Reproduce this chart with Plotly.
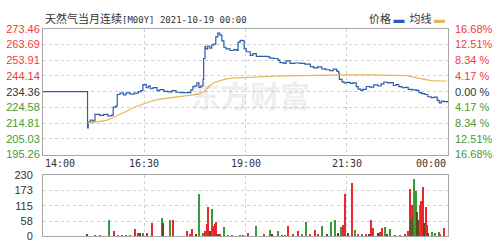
import plotly.graph_objects as go

# ---------------- data ----------------
title_text = "天然气当月连续[M00Y] 2021-10-19 00:00"
prev_close = 234.36

# price line: minutes after 14:00, price
price_minutes = [0, 65, 66, 67, 70, 74, 77, 84, 90, 96, 102, 104, 108, 110, 114, 119, 123, 129, 135,
                 141, 145, 148, 153, 156, 159, 163, 169, 173, 179, 185, 191, 197, 203, 210, 218, 219,
                 222, 225, 228, 231, 234, 237, 238, 240, 241, 244, 247, 250, 253, 256, 259, 262, 265,
                 268, 271, 277, 283, 287, 289, 292, 296, 298, 301, 307, 311, 316, 324, 333, 336, 342,
                 348, 351, 357, 360, 366, 373, 381, 388, 396, 401, 407, 413, 419, 425, 430, 435, 438,
                 439, 443, 446, 450, 455, 459, 464, 467, 471, 474, 479, 484, 490, 496, 501, 505, 510,
                 514, 519, 523, 527, 532, 536, 541, 547, 553, 557, 561, 566, 570, 575, 579, 584, 587,
                 590, 594, 599]
price_values = [234.36, 234.36, 211.8, 215.5, 216.6, 216.0, 220.2, 219.6, 220.3, 219.3, 219.8, 224.8,
                225.5, 232.6, 233.5, 232.4, 233.6, 232.8, 233.4, 234.4, 235.0, 238.8, 236.8, 237.8,
                236.2, 236.9, 235.0, 235.6, 234.5, 234.3, 235.0, 234.0, 233.8, 233.8, 233.8, 235.5,
                237.5, 238.0, 239.8, 237.0, 238.0, 242.0, 255.0, 262.5, 261.0, 262.8, 261.5, 263.5,
                264.0, 268.5, 270.8, 269.5, 266.0, 262.0, 261.0, 260.0, 260.5, 260.0, 265.0, 266.3,
                266.0, 261.0, 259.2, 257.0, 258.0, 256.3, 256.3, 256.0, 255.2, 255.0, 254.0, 252.5,
                252.0, 253.5, 252.0, 252.2, 252.0, 251.5, 250.0, 249.2, 249.8, 248.5, 248.0, 247.5,
                248.4, 247.2, 246.0, 242.0, 240.5, 239.8, 240.2, 239.5, 239.9, 237.5, 236.0, 235.2,
                235.8, 237.6, 237.2, 238.6, 237.9, 239.2, 240.4, 239.8, 240.0, 238.2, 238.8, 237.5,
                236.8, 237.0, 235.8, 235.5, 235.2, 233.8, 233.2, 232.6, 231.2, 230.6, 231.0, 229.0,
                227.4, 228.5, 228.2, 227.6]

# average line
avg_minutes = [66, 74, 84, 94, 104, 115, 125, 136, 148, 160, 172, 185, 198, 210, 222, 232, 238, 243,
               248, 255, 262, 270, 280, 295, 310, 330, 360, 390, 420, 450, 480, 520, 540, 555, 565,
               575, 590, 599]
avg_values = [214.8, 215.3, 215.8, 216.5, 218.3, 220.3, 222.5, 224.8, 226.8, 228.4, 229.6, 230.5,
              231.2, 231.8, 232.4, 233.0, 234.0, 236.5, 238.5, 240.2, 241.3, 242.2, 242.8, 243.2,
              243.5, 243.8, 244.2, 244.5, 244.7, 244.8, 244.8, 244.6, 244.3, 242.8, 241.8, 241.2,
              241.0, 241.0]

# volume bars
vol_minutes = [65, 77, 84, 98, 105, 111, 117, 123, 129, 136, 141, 144, 148, 154, 161, 176, 178, 188,
               193, 213, 218, 221, 227, 231, 237, 240, 243, 244, 247, 250, 252, 255, 256, 259, 262,
               268, 274, 280, 292, 296, 304, 316, 327, 336, 339, 348, 354, 359, 363, 370, 378, 384,
               390, 396, 403, 407, 413, 421, 427, 433, 437, 441, 444, 447, 448, 452, 458, 462, 467,
               473, 479, 483, 486, 489, 496, 499, 502, 507, 510, 514, 521, 529, 536, 541, 544, 545,
               547, 548, 550, 553, 554, 556, 559, 560, 563, 564, 567, 569, 571, 576, 581, 587, 588,
               594]
vol_values = [4, 2, 3, 59, 18, 3, 2, 3, 2, 28, 10, 12, 12, 10, 47, 67, 50, 61, 61, 17, 8, 25, 8, 159,
              10, 17, 44, 109, 20, 100, 39, 45, 51, 8, 5, 33, 3, 2, 2, 2, 12, 37, 4, 22, 8, 20, 3, 3,
              37, 4, 17, 5, 53, 4, 22, 5, 37, 6, 53, 61, 10, 33, 43, 157, 103, 10, 201, 22, 4, 4, 5,
              8, 61, 30, 10, 15, 30, 33, 8, 25, 3, 3, 4, 20, 178, 60, 115, 70, 214, 170, 90, 60, 117,
              133, 184, 50, 110, 43, 12, 13, 12, 13, 6, 30]
vol_dir = ["mix", "down", "up", "down", "up", "down", "up", "down", "down", "up", "up", "mix", "down",
           "up", "up", "down", "mix", "down", "up", "up", "up", "up", "mix", "down", "down", "up", "up",
           "up", "mix", "down", "up", "up", "up", "mix", "up", "down", "down", "up", "down", "up", "up",
           "down", "up", "down", "mix", "down", "up", "down", "up", "up", "up", "down", "down", "up",
           "up", "up", "down", "mix", "down", "down", "mix", "down", "up", "up", "up", "mix", "up",
           "down", "up", "down", "up", "mix", "up", "up", "mix", "up", "up", "down", "mix", "down",
           "up", "down", "up", "up", "up", "mix", "up", "mix", "down", "down", "mix", "mix", "down",
           "up", "up", "mix", "up", "up", "mix", "down", "down", "down", "up", "up"]

time_tick_minutes = [0, 150, 300, 450, 600]
time_tick_labels = ["14:00", "16:30", "19:00", "21:30", "00:00"]

price_ticks = [273.46, 263.69, 253.91, 244.14, 234.36, 224.58, 214.81, 205.03, 195.26]
pct_ticks = ["16.68%", "12.51%", "8.34 %", "4.17 %", "0.00 %", "4.17 %", "8.34 %", "12.51%", "16.68%"]
vol_ticks = [0, 58, 115, 173, 230]

# ---------------- style ----------------
RED = "#ee3b3b"
GREEN = "#4a9a2e"
DARK = "#333333"
BLUE = "#2a5caa"
ORANGE = "#e8b656"
dir_color = {"up": "#e8282b", "down": "#3a9a3a", "mix": "#5c4a12"}


def tick_color(v):
    if abs(v - prev_close) < 1e-6:
        return DARK
    return RED if v > prev_close else GREEN


left_text = [f"<span style='color:{tick_color(v)}'>{v:.2f}</span>" for v in price_ticks]
right_text = [f"<span style='color:{tick_color(v)}'>{t}</span>" for v, t in zip(price_ticks, pct_ticks)]

fig = go.Figure()
fig.add_trace(go.Scatter(x=price_minutes, y=price_values, mode="lines",
                         line=dict(color=BLUE, width=1.2, shape="hv"), hoverinfo="skip",
                         xaxis="x", yaxis="y"))
fig.add_trace(go.Scatter(x=avg_minutes, y=avg_values, mode="lines",
                         line=dict(color=ORANGE, width=1.2), hoverinfo="skip",
                         xaxis="x", yaxis="y"))
# invisible copy on the right-hand percent axis so that axis is drawn
fig.add_trace(go.Scatter(x=price_minutes, y=price_values, mode="lines", opacity=0,
                         line=dict(width=0), hoverinfo="skip", xaxis="x", yaxis="y2"))
fig.add_trace(go.Bar(x=vol_minutes, y=vol_values, width=1.6,
                     marker=dict(color=[dir_color[d] for d in vol_dir], line=dict(width=0)),
                     hoverinfo="skip", xaxis="x2", yaxis="y3"))

grid = dict(showgrid=True, gridcolor="#cfcfcf", griddash="3px,3px", gridwidth=1)
border = dict(showline=True, linecolor="#a8a8a8", linewidth=1, mirror=True, zeroline=False)
xdom = [43 / 500, 448 / 500]
tfont = dict(size=11, family="Liberation Sans, Arial")

fig.update_layout(
    width=500, height=250, margin=dict(l=0, r=0, t=0, b=0),
    paper_bgcolor="white", plot_bgcolor="white", showlegend=False, bargap=0,
    font=dict(family="Liberation Sans, Arial", size=11, color=DARK),
    xaxis=dict(domain=xdom, range=[0, 600], tickvals=time_tick_minutes[1:-1],
               showticklabels=False, ticks="", anchor="y", **grid, **border),
    yaxis=dict(domain=[1 - 156 / 250, 1 - 24 / 250], range=[195.26, 273.46],
               tickvals=price_ticks, ticktext=left_text, ticks="", ticklabelstandoff=0,
               tickfont=tfont, anchor="x", **grid, **border),
    yaxis2=dict(overlaying="y", side="right", range=[195.26, 273.46], tickvals=price_ticks,
                ticktext=right_text, ticks="", ticklabelstandoff=6, showgrid=False,
                tickfont=tfont, anchor="x", zeroline=False, showline=False),
    xaxis2=dict(domain=xdom, range=[0, 600], matches="x", tickvals=time_tick_minutes[1:-1],
                showticklabels=False, ticks="", anchor="y3", **grid, **border),
    yaxis3=dict(domain=[1 - 242 / 250, 1 - 178 / 250], range=[0, 230], tickvals=vol_ticks,
                ticks="", ticklabelstandoff=7, tickfont=dict(size=11, color=DARK),
                anchor="x2", **grid, **border),
)

# time labels
anchors = ["left", "center", "center", "center", "right"]
for m, lab, a in zip(time_tick_minutes, time_tick_labels, anchors):
    fig.add_annotation(x=m, y=1 - 165 / 250, xref="x", yref="paper", text=lab, showarrow=False,
                       xanchor=a, yanchor="middle",
                       font=dict(family="DejaVu Sans Mono", size=10, color=DARK))

# title
fig.add_annotation(x=43 / 500, y=1 - 13 / 250, xref="paper", yref="paper", showarrow=False,
                   xanchor="left", yanchor="middle",
                   text="天然气当月连续<span style='font-family:DejaVu Sans Mono;font-size:9px'>[M00Y] 2021-10-19 00:00</span>",
                   font=dict(family="Noto Sans CJK SC", size=11, color=DARK))

# legend
fig.add_annotation(x=447 / 500, y=1 - 13 / 250, xref="paper", yref="paper", showarrow=False,
                   xanchor="right", yanchor="middle",
                   text=f"价格 <span style='color:{BLUE}'>▬</span>  均线 <span style='color:{ORANGE}'>▬</span>",
                   font=dict(family="Noto Sans CJK SC", size=11, color=DARK))

# watermark
fig.add_annotation(x=250 / 500, y=1 - 92 / 250, xref="paper", yref="paper", showarrow=False,
                   xanchor="center", yanchor="middle", text="<b>东方财富</b>",
                   font=dict(family="Noto Sans CJK SC", size=30, color="rgba(150,150,150,0.18)"))

fig.write_html("out.html")
